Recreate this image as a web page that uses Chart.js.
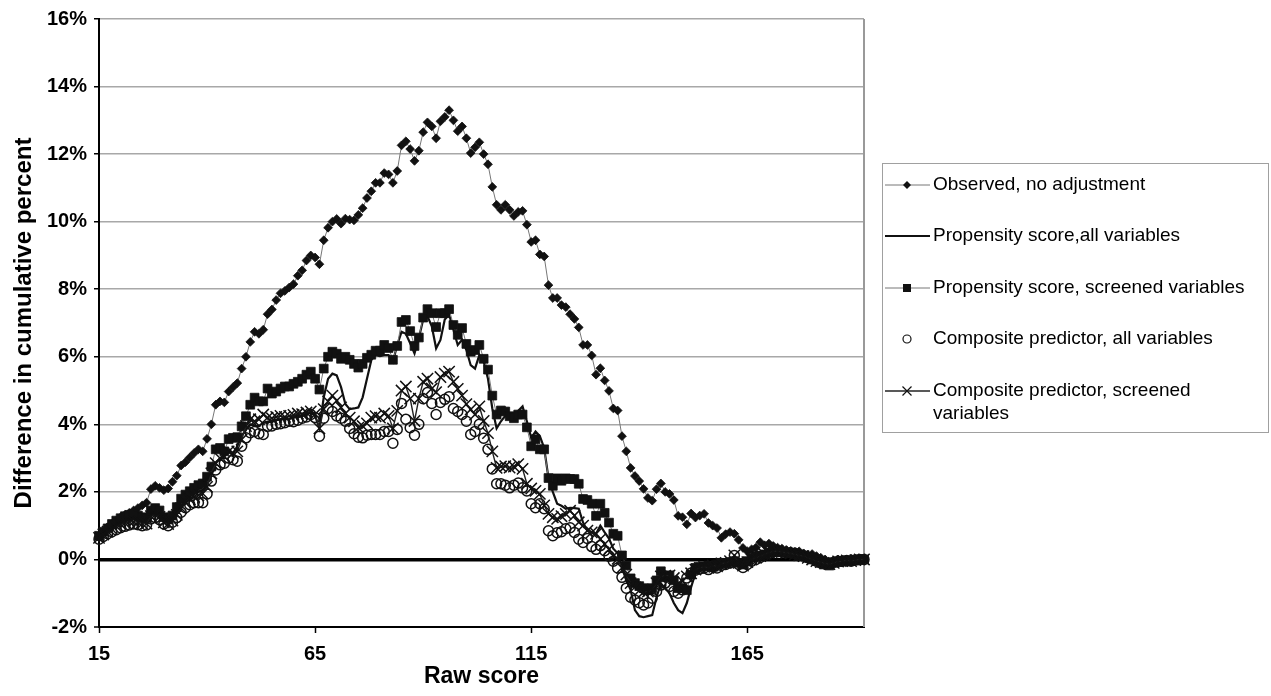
<!DOCTYPE html>
<html>
<head>
<meta charset="utf-8">
<script src="https://cdn.jsdelivr.net/npm/chart.js@4.4.1/dist/chart.umd.min.js"></script>
<style>
  html, body { margin: 0; padding: 0; background: #fff; }
  #wrap { width: 1271px; height: 696px; position: relative; }
</style>
</head>
<body>
<div id="wrap"><canvas id="chart"></canvas></div>
<script>
// raw score categories
var rawScores = [15,16,17,18,19,20,21,22,23,24,25,26,27,28,29,30,31,32,33,34,35,36,37,38,39,40,
  41,42,43,44,45,46,47,48,49,50,51,52,53,54,55,56,57,58,59,60,61,62,63,64,65,66,67,68,69,70,
  71,72,73,74,75,76,77,78,79,80,81,82,83,84,85,86,87,88,89,90,91,92,93,94,95,96,97,98,99,100,
  101,102,103,104,105,106,107,108,109,110,111,112,113,114,115,116,117,118,119,120,121,122,123,124,125,
  126,127,128,129,130,131,132,133,134,135,136,137,138,139,140,141,142,143,144,145,146,147,148,149,150,
  151,152,153,154,155,156,157,158,159,160,161,162,163,164,165,166,167,168,169,170,171,172,173,174,175,
  176,177,178,179,180,181,182,183,184,185,186,187,188,189,190,191,192];

// difference in cumulative percent, one value per raw score
var observed = [
  0.65,0.82,0.95,1.05,1.15,1.25,1.32,1.38,1.45,1.52,
  1.60,1.68,2.08,2.18,2.12,2.05,2.10,2.30,2.48,2.78,
  2.88,3.02,3.15,3.26,3.20,3.57,4.00,4.58,4.68,4.65,
  4.97,5.10,5.22,5.65,6.00,6.44,6.74,6.68,6.80,7.26,
  7.40,7.68,7.88,7.95,8.05,8.15,8.40,8.56,8.85,9.00,
  8.94,8.74,9.45,9.82,10.00,10.08,9.94,10.09,10.06,10.04,
  10.20,10.40,10.70,10.90,11.15,11.15,11.44,11.40,11.15,11.50,
  12.26,12.38,12.15,11.80,12.10,12.65,12.94,12.82,12.47,12.97,
  13.10,13.30,13.00,12.68,12.82,12.47,12.03,12.20,12.35,12.00,
  11.70,11.03,10.50,10.35,10.50,10.35,10.17,10.29,10.32,9.91,
  9.40,9.45,9.03,8.97,8.12,7.74,7.74,7.53,7.47,7.26,
  7.12,6.87,6.35,6.35,6.04,5.47,5.66,5.30,4.99,4.47,
  4.41,3.65,3.20,2.71,2.47,2.32,2.09,1.82,1.74,2.08,
  2.25,2.00,1.94,1.76,1.29,1.25,1.04,1.36,1.24,1.30,
  1.35,1.08,1.00,0.93,0.64,0.75,0.81,0.76,0.58,0.34,
  0.24,0.30,0.35,0.51,0.42,0.47,0.40,0.35,0.32,0.28,
  0.25,0.22,0.24,0.18,0.14,0.16,0.10,0.05,0.00,-0.08,
  -0.04,0.00,-0.06,-0.02,0.02,-0.05,-0.02,0.00];

var propensityAll = [
  0.62,0.75,0.85,0.95,1.05,1.12,1.18,1.22,1.22,1.18,
  1.12,1.08,1.30,1.40,1.35,1.15,1.08,1.15,1.35,1.60,
  1.75,1.85,1.95,2.00,2.05,2.20,2.50,2.85,3.00,3.05,
  3.20,3.15,3.35,3.65,3.85,4.00,3.95,3.95,4.05,4.05,
  4.10,4.12,4.15,4.15,4.15,4.20,4.22,4.25,4.30,4.35,
  4.25,3.88,4.80,5.35,5.50,5.45,5.10,4.60,4.45,4.47,
  4.50,4.80,5.35,5.90,6.05,6.02,6.05,6.05,5.85,6.35,
  6.74,6.68,6.40,6.10,6.55,7.10,7.20,6.90,6.25,6.50,
  7.10,7.25,6.80,6.35,6.50,6.20,5.75,5.65,6.05,5.85,
  5.35,4.47,3.88,4.09,4.25,4.20,4.30,4.40,4.53,4.09,
  3.60,3.79,3.65,3.30,2.41,2.00,1.65,1.59,1.50,1.53,
  1.52,1.50,1.09,0.85,0.80,0.76,1.00,0.80,0.62,0.32,
  0.18,-0.24,-0.62,-0.90,-1.50,-1.68,-1.71,-1.68,-1.65,-1.12,
  -0.71,-0.85,-1.00,-1.29,-1.50,-1.59,-1.29,-0.82,-0.41,-0.30,
  -0.25,-0.28,-0.20,-0.22,-0.15,-0.12,-0.10,-0.10,-0.15,-0.20,
  -0.10,0.00,0.08,0.12,0.15,0.20,0.22,0.22,0.20,0.18,
  0.15,0.12,0.10,0.08,0.02,-0.02,-0.08,-0.12,-0.15,-0.15,
  -0.10,-0.08,-0.05,-0.05,-0.03,-0.02,0.00,0.00];

var propensityScreened = [
  0.70,0.82,0.92,1.05,1.15,1.22,1.28,1.32,1.35,1.30,
  1.25,1.22,1.45,1.52,1.45,1.25,1.18,1.30,1.55,1.80,
  1.92,2.02,2.12,2.20,2.25,2.45,2.75,3.26,3.30,3.20,
  3.56,3.60,3.62,3.94,4.24,4.58,4.79,4.68,4.68,5.06,
  4.91,4.97,5.06,5.12,5.12,5.20,5.26,5.35,5.47,5.56,
  5.35,5.03,5.65,6.00,6.15,6.09,5.94,6.00,5.91,5.79,
  5.68,5.79,5.97,6.06,6.18,6.18,6.35,6.26,5.91,6.32,
  7.03,7.09,6.76,6.32,6.57,7.16,7.41,7.29,6.88,7.29,
  7.29,7.41,6.94,6.65,6.85,6.38,6.15,6.20,6.35,5.94,
  5.62,4.85,4.29,4.41,4.38,4.24,4.18,4.29,4.29,3.91,
  3.35,3.56,3.26,3.26,2.41,2.18,2.40,2.33,2.40,2.38,
  2.38,2.24,1.79,1.76,1.65,1.29,1.65,1.38,1.09,0.76,
  0.70,0.12,-0.18,-0.56,-0.70,-0.79,-0.85,-0.91,-0.85,-0.62,
  -0.35,-0.53,-0.47,-0.62,-0.85,-0.85,-0.91,-0.45,-0.25,-0.22,
  -0.20,-0.18,-0.22,-0.15,-0.10,-0.12,-0.08,-0.05,-0.10,-0.15,
  -0.05,0.05,0.10,0.12,0.15,0.20,0.22,0.25,0.22,0.20,
  0.18,0.15,0.10,0.12,0.05,0.00,-0.05,-0.10,-0.15,-0.18,
  -0.10,-0.08,-0.05,-0.03,-0.05,-0.02,0.00,0.00];

var compositeAll = [
  0.60,0.68,0.76,0.82,0.88,0.94,0.98,1.02,1.05,1.03,
  1.00,1.02,1.20,1.24,1.18,1.05,1.00,1.10,1.24,1.40,
  1.53,1.62,1.68,1.68,1.68,1.94,2.32,2.65,2.80,2.85,
  3.00,2.95,2.91,3.35,3.60,3.75,3.79,3.72,3.70,3.94,
  3.95,4.00,4.02,4.05,4.09,4.08,4.12,4.18,4.22,4.29,
  4.20,3.65,4.18,4.47,4.38,4.25,4.18,4.09,3.88,3.72,
  3.62,3.60,3.68,3.70,3.70,3.70,3.79,3.79,3.44,3.85,
  4.62,4.15,3.90,3.68,4.00,4.76,4.94,4.62,4.29,4.65,
  4.74,4.82,4.47,4.38,4.29,4.09,3.70,3.79,4.00,3.59,
  3.26,2.68,2.24,2.24,2.20,2.12,2.20,2.26,2.12,2.03,
  1.65,1.53,1.65,1.50,0.85,0.70,0.79,0.82,0.91,0.94,
  0.80,0.60,0.50,0.62,0.38,0.30,0.41,0.26,0.10,-0.05,
  -0.25,-0.53,-0.85,-1.12,-1.20,-1.28,-1.35,-1.29,-1.15,-0.95,
  -0.76,-0.70,-0.80,-0.95,-1.00,-0.90,-0.55,-0.40,-0.32,-0.28,
  -0.25,-0.30,-0.22,-0.25,-0.18,-0.15,-0.10,0.12,-0.15,-0.24,
  -0.15,-0.05,0.00,0.06,0.12,0.18,0.22,0.26,0.22,0.20,
  0.20,0.18,0.12,0.10,0.05,0.02,-0.05,-0.10,-0.12,-0.12,
  -0.08,-0.05,-0.05,-0.03,-0.05,-0.02,0.00,0.00];

var compositeScreened = [
  0.64,0.74,0.82,0.90,0.98,1.04,1.08,1.12,1.12,1.10,
  1.06,1.06,1.28,1.32,1.26,1.10,1.05,1.15,1.32,1.52,
  1.68,1.78,1.85,1.90,1.95,2.15,2.55,2.85,3.00,3.05,
  3.20,3.15,3.20,3.55,3.95,4.15,4.09,4.15,4.29,4.20,
  4.18,4.22,4.25,4.22,4.25,4.28,4.32,4.30,4.35,4.38,
  4.30,3.88,4.45,4.68,4.85,4.70,4.50,4.32,4.20,4.09,
  3.90,3.95,4.03,4.20,4.24,4.20,4.32,4.25,3.88,4.40,
  5.00,5.12,4.76,4.10,4.76,5.26,5.35,5.06,4.95,5.40,
  5.50,5.56,5.26,5.05,4.85,4.60,4.44,4.29,4.53,4.10,
  3.74,3.20,2.71,2.75,2.76,2.72,2.75,2.82,2.68,2.24,
  2.10,2.03,1.94,1.60,1.35,1.25,1.20,1.28,1.35,1.44,
  1.30,1.10,1.00,0.85,0.80,0.76,0.60,0.45,0.30,0.10,
  0.02,-0.25,-0.45,-0.70,-0.82,-0.92,-0.97,-0.95,-0.91,-0.70,
  -0.50,-0.48,-0.47,-0.55,-0.71,-0.65,-0.50,-0.41,-0.30,-0.25,
  -0.22,-0.25,-0.18,-0.20,-0.12,-0.10,-0.05,0.12,-0.10,-0.18,
  -0.08,0.00,0.05,0.10,0.15,0.20,0.24,0.25,0.22,0.20,
  0.18,0.15,0.12,0.10,0.05,0.00,-0.05,-0.08,-0.12,-0.14,
  -0.10,-0.06,-0.05,-0.03,-0.05,-0.02,0.00,0.00];

var seriesNames = [
  'Observed, no adjustment',
  'Propensity score,all variables',
  'Propensity score, screened variables',
  'Composite predictor, all variables',
  ['Composite predictor, screened', 'variables']
];
var xTickValues = [15, 65, 115, 165];
var yMin = -2, yMax = 16, yStep = 2;

var FONT = '"Liberation Sans", Arial, Helvetica, sans-serif';

function toPoints(values) {
  return values.map(function (v, i) { return { x: rawScores[i], y: v }; });
}

// legend drawn by hand so it looks like the boxed excel legend
var legendBox = {
  id: 'legendBox',
  beforeDatasetsDraw: function (chart) {
    var a = chart.chartArea, ctx = chart.ctx;
    ctx.save();
    ctx.strokeStyle = '#999';
    ctx.lineWidth = 2;
    ctx.beginPath();
    ctx.moveTo(a.right, a.top);
    ctx.lineTo(a.right, a.bottom);
    ctx.stroke();
    ctx.restore();
  },
  afterDraw: function (chart) {
    var ctx = chart.ctx;
    ctx.save();
    ctx.strokeStyle = '#a0a0a0';
    ctx.lineWidth = 1;
    ctx.strokeRect(882.5, 163.5, 386, 269);

    var rows = [185, 236, 288, 339, 391];
    var x0 = 885, x1 = 930, mx = 907;
    ctx.font = '19px ' + FONT;
    ctx.textBaseline = 'middle';
    ctx.textAlign = 'left';

    rows.forEach(function (y, i) {
      var ds = chart.data.datasets[i];
      if (ds.showLine !== false) {
        ctx.strokeStyle = ds.borderColor;
        ctx.lineWidth = ds.borderWidth;
        ctx.beginPath();
        ctx.moveTo(x0, y);
        ctx.lineTo(x1, y);
        ctx.stroke();
      }
      ctx.fillStyle = '#111';
      ctx.strokeStyle = '#111';
      ctx.lineWidth = 1.2;
      if (ds.pointStyle === 'rectRot') {
        ctx.beginPath();
        ctx.moveTo(mx, y - 4); ctx.lineTo(mx + 4, y);
        ctx.lineTo(mx, y + 4); ctx.lineTo(mx - 4, y);
        ctx.closePath(); ctx.fill();
      } else if (ds.pointStyle === 'rect') {
        ctx.fillRect(mx - 4, y - 4, 8, 8);
      } else if (ds.pointStyle === 'circle') {
        ctx.beginPath(); ctx.arc(mx, y, 4, 0, Math.PI * 2); ctx.stroke();
      } else if (ds.pointStyle === 'crossRot') {
        ctx.beginPath();
        ctx.moveTo(mx - 4.5, y - 4.5); ctx.lineTo(mx + 4.5, y + 4.5);
        ctx.moveTo(mx + 4.5, y - 4.5); ctx.lineTo(mx - 4.5, y + 4.5);
        ctx.stroke();
      }
      ctx.fillStyle = '#000';
      var name = seriesNames[i];
      if (Array.isArray(name)) {
        ctx.fillText(name[0], 933, y);
        ctx.fillText(name[1], 933, y + 23);
      } else {
        ctx.fillText(name, 933, y);
      }
    });
    ctx.restore();
  }
};

var ctx = document.getElementById('chart');
var myChart = new Chart(ctx, {
  type: 'line',
  data: {
    datasets: [{
      label: seriesNames[0],
      data: toPoints(observed),
      borderColor: '#777',
      borderWidth: 1,
      pointStyle: 'rectRot',
      pointRadius: 4.4,
      pointBackgroundColor: '#111',
      pointBorderColor: '#111',
      pointBorderWidth: 0.8,
      order: 5
    }, {
      label: seriesNames[1],
      data: toPoints(propensityAll),
      borderColor: '#111',
      borderWidth: 2.2,
      pointRadius: 0,
      order: 4
    }, {
      label: seriesNames[2],
      data: toPoints(propensityScreened),
      borderColor: '#777',
      borderWidth: 1,
      pointStyle: 'rect',
      pointRadius: 6.2,
      pointBackgroundColor: '#111',
      pointBorderColor: '#111',
      pointBorderWidth: 0.8,
      order: 3
    }, {
      label: 'Composite predictor, all variables',
      data: toPoints(compositeAll),
      showLine: false,
      borderColor: '#111',
      borderWidth: 1,
      pointStyle: 'circle',
      pointRadius: 5,
      pointBackgroundColor: 'rgba(255,255,255,0)',
      pointBorderColor: '#111',
      pointBorderWidth: 1.5,
      order: 2
    }, {
      label: 'Composite predictor, screened variables',
      data: toPoints(compositeScreened),
      borderColor: '#222',
      borderWidth: 1.4,
      pointStyle: 'crossRot',
      pointRadius: 8,
      pointBorderColor: '#111',
      pointBorderWidth: 1.5,
      order: 1
    }]
  },
  options: {
    responsive: true,
    maintainAspectRatio: false,
    animation: false,
    layout: { padding: { left: 10, right: 407, top: 15, bottom: 6 } },
    elements: { line: { tension: 0 } },
    datasets: { line: { clip: 10 } },
    plugins: {
      legend: { display: false },
      tooltip: { enabled: false }
    },
    scales: {
      x: {
        type: 'linear',
        min: 15,
        max: 192,
        afterBuildTicks: function (scale) {
          scale.ticks = xTickValues.map(function (v) { return { value: v }; });
        },
        afterFit: function (scale) { scale.height = 63; },
        border: { color: '#000', width: 2 },
        grid: { drawOnChartArea: false, drawTicks: true, tickLength: 6, tickColor: '#000', tickWidth: 1.5 },
        ticks: {
          padding: 9,
          color: '#000',
          font: { family: FONT, size: 20, weight: 'bold' },
          callback: function (v) { return String(v); }
        },
        title: {
          display: true,
          text: 'Raw score',
          color: '#000',
          font: { family: FONT, size: 23, weight: 'bold' },
          padding: 0
        }
      },
      y: {
        min: yMin,
        max: yMax,
        afterFit: function (scale) { scale.width = 89; },
        border: { color: '#000', width: 2 },
        grid: {
          color: function (c) {
            if (c.tick && (c.tick.value === 0 || c.tick.value === yMin)) return '#000';
            return '#a8a8a8';
          },
          lineWidth: function (c) {
            if (c.tick && c.tick.value === 0) return 3.5;
            if (c.tick && c.tick.value === yMin) return 2;
            return 1.5;
          },
          tickLength: 5,
          tickColor: '#000',
          tickWidth: 1.5
        },
        ticks: {
          stepSize: yStep,
          padding: 7,
          color: '#000',
          font: { family: FONT, size: 20, weight: 'bold' },
          callback: function (v) { return v + '%'; }
        },
        title: {
          display: true,
          text: 'Difference in cumulative percent',
          color: '#000',
          font: { family: FONT, size: 24, weight: 'bold' },
          padding: 0
        }
      }
    }
  },
  plugins: [legendBox]
});
</script>
</body>
</html>
